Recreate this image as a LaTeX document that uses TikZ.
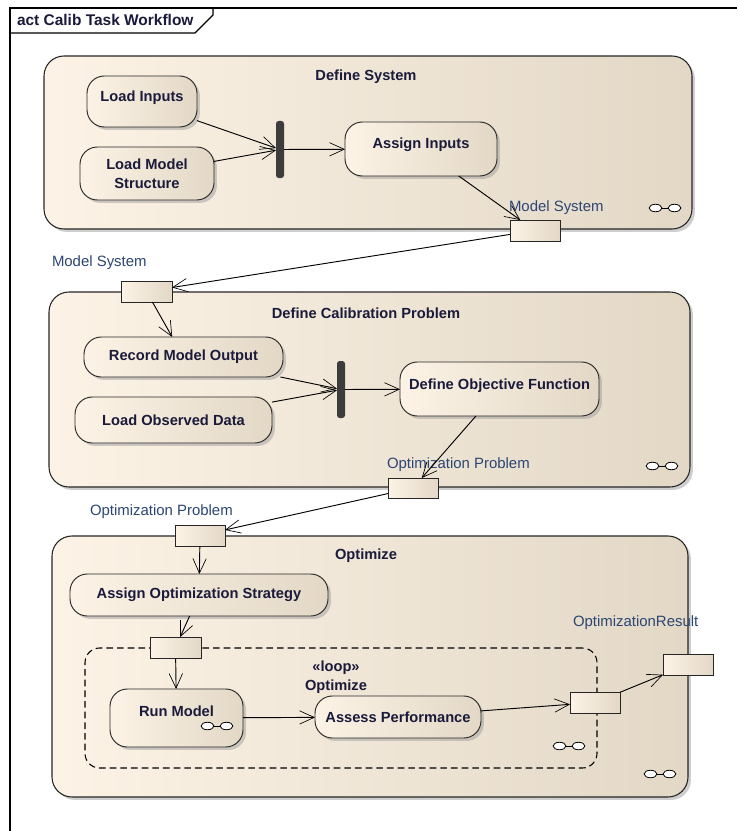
\documentclass[tikz,border=0pt]{standalone}
\usepackage{fontspec}
\setmainfont{Liberation Sans}
\usetikzlibrary{arrows.meta,shadows,fit,calc}
\definecolor{bgL}{HTML}{FCF3E6}
\definecolor{bgR}{HTML}{E3D8C6}
\definecolor{txt}{HTML}{1A1A3A}
\definecolor{lbl}{HTML}{2B4672}
\definecolor{barc}{HTML}{3C3C3C}
\tikzset{
  twoloops/.pic={
    \draw[line width=0.6pt, fill=white] (-9.5,0) ellipse [x radius=4.8pt, y radius=2.8pt];
    \draw[line width=0.6pt, fill=white] (9.5,0) ellipse [x radius=4.8pt, y radius=2.8pt];
    \draw[line width=0.6pt] (-3,0) -- (3,0);
  }
}
\begin{document}
\begin{tikzpicture}[x=0.75pt,y=-0.75pt,
  every node/.style={inner sep=0pt, outer sep=0pt},
  sz/.style 2 args={minimum width=#1*0.75pt, minimum height=#2*0.75pt},
  raised/.style={text height=8pt, text depth=8pt},
  shadowed/.style={drop shadow={shadow xshift=2.2pt, shadow yshift=-2.2pt, fill=black!38}},
  actframe/.style={draw=black!85, line width=0.8pt, rounded corners=15pt, left color=bgL, right color=bgR, shadowed},
  actbox/.style={draw=black!85, line width=0.7pt, rounded corners=13pt, left color=bgL, right color=bgR, shadowed,
    font=\bfseries\fontsize{11}{14}\selectfont, text=txt, align=center},
  pinbox/.style={draw=black!85, line width=0.7pt, left color=bgL, right color=bgR},
  forkbar/.style={fill=barc, rounded corners=2pt},
  ttl/.style={font=\bfseries\fontsize{11}{14}\selectfont, text=txt, align=center},
  lbltxt/.style={font=\fontsize{11.2}{13}\selectfont, text=lbl, anchor=west},
  loopbox/.style={draw=black, line width=0.8pt, dash pattern=on 5pt off 3pt, rounded corners=11pt},
  flow/.style={draw=black, line width=0.7pt, -{Straight Barb[length=11pt,width=10pt,line width=0.5pt]}}
]
\useasboundingbox (0,0) rectangle (738,831);
\fill[white] (0,0) rectangle (738,831);

% outer frame
\draw[line width=0.8pt] (10,831) -- (10,8) -- (737,8);
\draw[line width=0.8pt] (10,33) -- (195,33) -- (213,15) -- (213,8);
\node[ttl, anchor=west, font=\bfseries\fontsize{11.6}{14}\selectfont] (frametitle) at (17,20) {act Calib Task Workflow};

% activity frames
\node[actframe, fit={(44,56) (692,229)}] (a1) {};
\node[actframe, fit={(49,292) (690,487)}] (a2) {};
\node[actframe, fit={(52,536) (688,797)}] (a3) {};

\node[ttl] (t1) at (366,77) {Define System};
\node[ttl] (t2) at (366,313) {Define Calibration Problem};
\node[ttl] (t3) at (366,556) {Optimize};

% Define System contents
\node[actbox, sz={110}{51}, raised] (li) at (142,101.5) {Load Inputs};
\node[actbox, sz={134}{53}] (lms) at (147,173.5) {Load Model\\Structure};
\node[forkbar, fit={(276,121) (284,178)}] (f1) {};
\node[actbox, sz={152}{54}, raised] (ai) at (421,149) {Assign Inputs};
\node[pinbox, fit={(510,220) (560,241)}] (p1) {};
\node[lbltxt] (l1) at (509,208) {Model System};
\pic at (665,208) {twoloops};

% Define Calibration Problem contents
\node[pinbox, fit={(121,281) (172,302)}] (p2) {};
\node[lbltxt] (l2) at (52,263) {Model System};
\node[actbox, sz={199}{40}] (rmo) at (183.5,357) {Record Model Output};
\node[actbox, sz={197}{46}] (lod) at (173.5,420) {Load Observed Data};
\node[forkbar, fit={(337,361) (345,418)}] (f2) {};
\node[actbox, sz={199}{54}, raised] (dof) at (499.5,389) {Define Objective Function};
\node[pinbox, fit={(388,478) (438,498)}] (p3) {};
\node[lbltxt] (l3) at (387,465) {Optimization Problem};
\pic at (662,466) {twoloops};

% Optimize contents
\node[pinbox, fit={(175,525) (225,546)}] (p4) {};
\node[lbltxt] (l4) at (90,512) {Optimization Problem};
\node[actbox, sz={258}{42}] (aos) at (199,595) {Assign Optimization Strategy};
\node[loopbox, fit={(85,648) (597,768)}] (lp) {};
\node[ttl] (lpt) at (336,677) {«loop»\\Optimize};
\node[pinbox, fit={(150,637) (201,658)}] (p5) {};
\node[actbox, sz={133}{58}, text height=8pt, text depth=11pt] (rm) at (176.5,718) {Run Model};
\pic at (217,726) {twoloops};
\node[actbox, sz={166}{42}] (ap) at (398,717) {Assess Performance};
\node[pinbox, fit={(570,692) (620,713)}] (p6) {};
\node[pinbox, fit={(663,654) (713,675)}] (p7) {};
\node[lbltxt] (l7) at (573,623) {OptimizationResult};
\pic at (569,746) {twoloops};
\pic at (660,774) {twoloops};

% connectors
\draw[flow] (li) -- (f1);
\draw[flow] (lms) -- (f1);
\draw[flow] (f1) -- (ai);
\draw[flow] (ai) -- (p1);
\draw[flow] (p1) -- (p2);
\draw[flow] (p2) -- (rmo);
\draw[flow] (rmo) -- (f2);
\draw[flow] (lod) -- (f2);
\draw[flow] (f2) -- (dof);
\draw[flow] (dof) -- (p3);
\draw[flow] (p3) -- (p4);
\draw[flow] (p4) -- (aos);
\draw[flow] (aos) -- (p5);
\draw[flow] (p5) -- (rm);
\draw[flow] (rm) -- (ap);
\draw[flow] (ap) -- (p6);
\draw[flow] (p6) -- (p7);
\end{tikzpicture}
\end{document}
